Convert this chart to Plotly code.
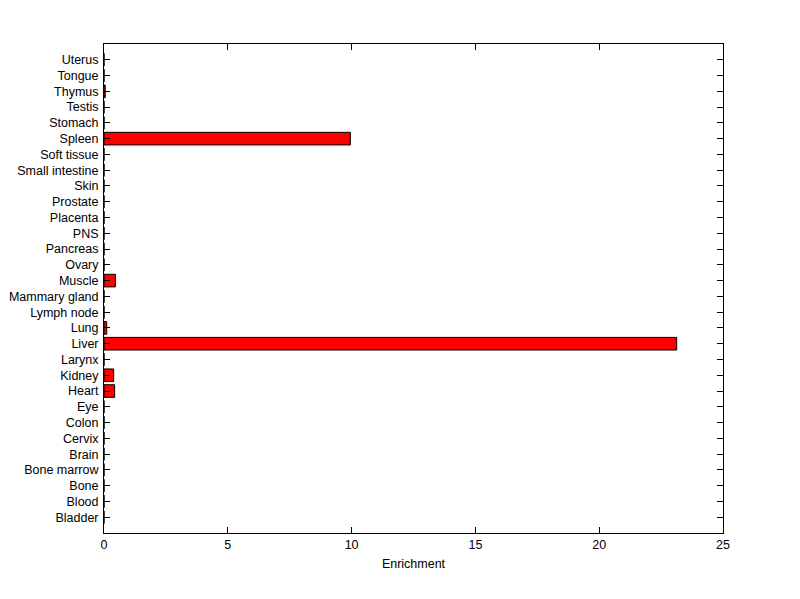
import plotly.graph_objects as go

tissues = ["Bladder", "Blood", "Bone", "Bone marrow", "Brain", "Cervix", "Colon", "Eye",
           "Heart", "Kidney", "Larynx", "Liver", "Lung", "Lymph node", "Mammary gland",
           "Muscle", "Ovary", "Pancreas", "PNS", "Placenta", "Prostate", "Skin",
           "Small intestine", "Soft tissue", "Spleen", "Stomach", "Testis", "Thymus",
           "Tongue", "Uterus"]
enrichment = [0, 0, 0, 0, 0, 0, 0, 0,
              0.43, 0.39, 0, 23.13, 0.11, 0, 0,
              0.46, 0, 0, 0, 0, 0, 0,
              0, 0, 9.95, 0, 0, 0.05,
              0, 0]
x_ticks = [0, 5, 10, 15, 20, 25]

fig = go.Figure()
fig.add_trace(go.Bar(
    y=list(range(len(tissues))), x=enrichment, orientation="h", width=0.8,
    marker=dict(color="#ff0000", line=dict(color="black", width=1)),
))

axis_font = dict(family="Liberation Sans, Arial, sans-serif", size=12.5, color="black")
fig.update_layout(
    width=800, height=599,
    paper_bgcolor="white", plot_bgcolor="white",
    margin=dict(l=96, r=85, t=36, b=74),
    showlegend=False,
    font=axis_font,
    xaxis=dict(range=[0, 25], tickvals=x_ticks, ticks="inside", ticklen=6,
               showline=True, linecolor="black", linewidth=1, mirror="ticks",
               showgrid=False, zeroline=False, tickcolor="black", automargin=False,
               title=dict(text="Enrichment", font=dict(size=12.5), standoff=8),
               tickfont=dict(size=12.5)),
    yaxis=dict(range=[-1, 30], tickvals=list(range(len(tissues))), ticktext=tissues,
               ticks="inside", ticklen=6, ticklabelstandoff=2, automargin=False,
               showline=True, linecolor="black", linewidth=1, mirror="ticks",
               showgrid=False, zeroline=False, tickcolor="black",
               tickfont=dict(size=12.5)),
)
fig.write_html("out.html")
